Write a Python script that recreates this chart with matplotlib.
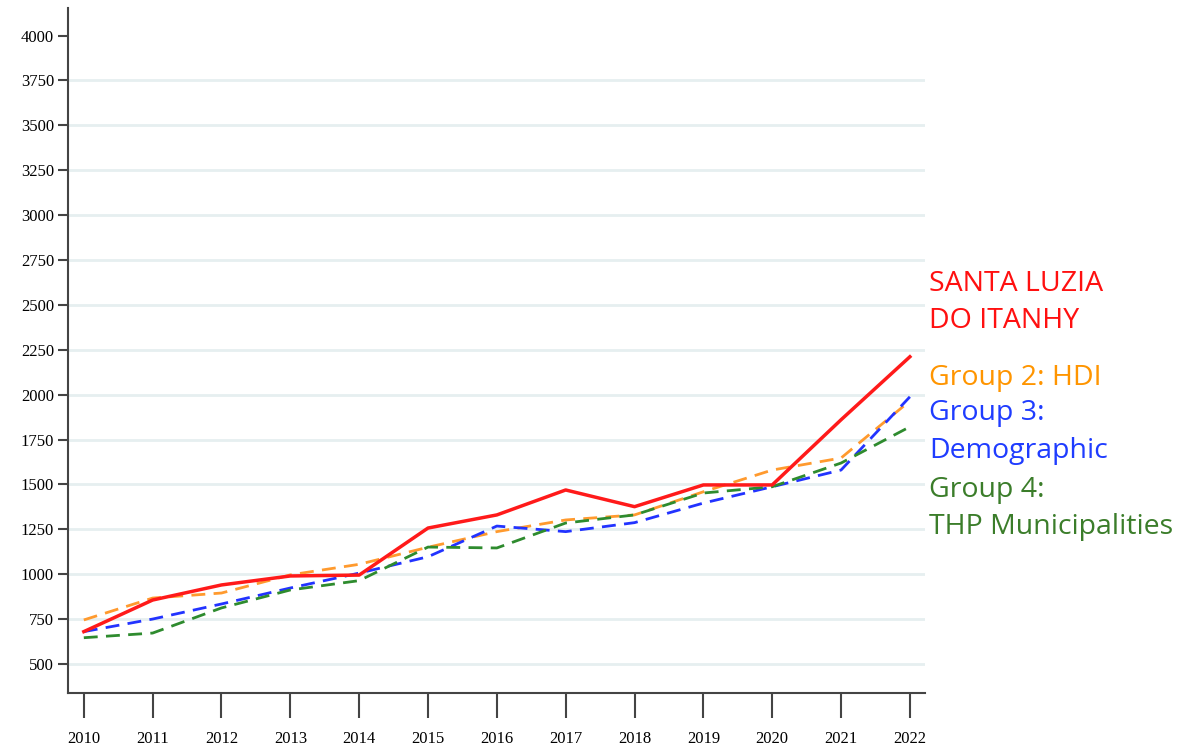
import matplotlib.pyplot as plt
import numpy as np

years = [2010, 2011, 2012, 2013, 2014, 2015, 2016, 2017, 2018, 2019, 2020, 2021, 2022]

santa_luzia = [680, 856, 940, 990, 995, 1257, 1330, 1469, 1376, 1497, 1497, 1860, 2211]
group2_hdi = [745, 867, 895, 996, 1055, 1150, 1237, 1302, 1330, 1459, 1580, 1647, 1965]
group3_demo = [680, 750, 834, 923, 1006, 1097, 1268, 1237, 1287, 1396, 1487, 1580, 1988]
group4_thp = [646, 672, 812, 912, 964, 1151, 1146, 1285, 1330, 1452, 1487, 1619, 1821]

yticks = [500, 750, 1000, 1250, 1500, 1750, 2000, 2250, 2500, 2750, 3000, 3250, 3500, 3750, 4000]
grid_vals = yticks[:-1]

fig = plt.figure(figsize=(11.99, 7.51), dpi=100)
ax = fig.add_axes([0.0567, 0.0772, 0.7148, 0.912])

for g in grid_vals:
    ax.axhline(g, color='#e6eff0', lw=2, zorder=0)

ax.plot(years, group2_hdi, color='#ff9a2e', lw=2, dashes=(5, 3))
ax.plot(years, group3_demo, color='#2233ff', lw=2, dashes=(5, 3))
ax.plot(years, group4_thp, color='#2e8b2e', lw=2, dashes=(5, 3))
ax.plot(years, santa_luzia, color='#ff1a1a', lw=2.5)

ax.set_xlim(2009.77, 2022.22)
ax.set_ylim(338, 4153)
ax.set_xticks(years)
ax.set_yticks(yticks)
ax.set_xticklabels([str(y) for y in years], family='Liberation Serif', fontsize=12)
ax.set_yticklabels([str(v) for v in yticks], family='Liberation Serif', fontsize=12)
ax.tick_params(axis='x', length=18, width=1.5, color='#444444', pad=9)
ax.tick_params(axis='y', length=7, width=1.5, color='#444444', pad=3)

for s in ['top', 'right']:
    ax.spines[s].set_visible(False)
for s in ['left', 'bottom']:
    ax.spines[s].set_color('#444444')
    ax.spines[s].set_linewidth(1.5)

lab_font = dict(family='Open Sans', fontsize=20.5, va='center', ha='left')
fig.text(0.775, 1 - 284 / 751, 'SANTA LUZIA', color='#ff1010', **lab_font)
fig.text(0.775, 1 - 321 / 751, 'DO ITANHY', color='#ff1010', **lab_font)
fig.text(0.775, 1 - 378 / 751, 'Group 2: HDI', color='#ff9500', **lab_font)
fig.text(0.775, 1 - 413 / 751, 'Group 3:', color='#1f3cff', **lab_font)
fig.text(0.775, 1 - 451 / 751, 'Demographic', color='#1f3cff', **lab_font)
fig.text(0.775, 1 - 490 / 751, 'Group 4:', color='#3b7d2a', **lab_font)
fig.text(0.775, 1 - 527 / 751, 'THP Municipalities', color='#3b7d2a', **lab_font)

plt.savefig('out.png', dpi=100)
